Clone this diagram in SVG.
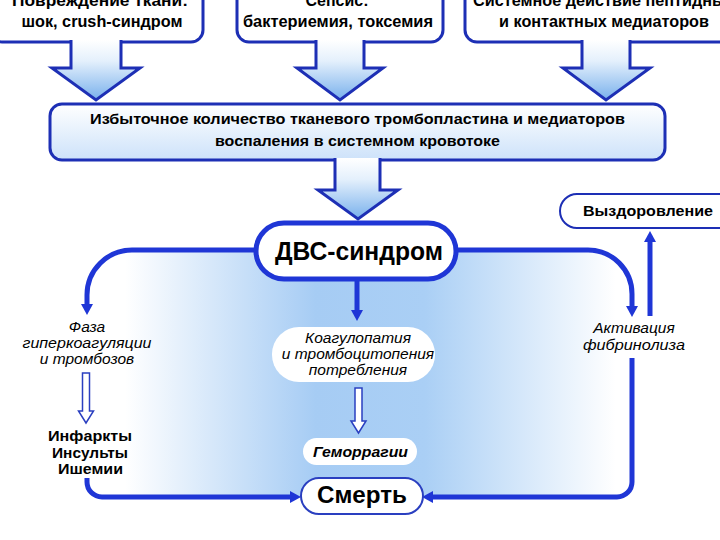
<svg xmlns="http://www.w3.org/2000/svg" width="720" height="540" viewBox="0 0 720 540">
<defs>
<linearGradient id="gArrow" x1="0" y1="0" x2="0" y2="1">
<stop offset="0" stop-color="#ffffff"/>
<stop offset="0.35" stop-color="#e4f0fc"/>
<stop offset="1" stop-color="#78b0ec"/>
</linearGradient>
<linearGradient id="gMain" x1="0" y1="0" x2="0" y2="1">
<stop offset="0" stop-color="#ffffff"/>
<stop offset="1" stop-color="#cde2fa"/>
</linearGradient>
<linearGradient id="gLoop" gradientUnits="userSpaceOnUse" x1="87" y1="0" x2="632" y2="0">
<stop offset="0" stop-color="#ffffff"/>
<stop offset="0.07" stop-color="#ffffff"/>
<stop offset="0.42" stop-color="#a6ccf4"/>
<stop offset="0.62" stop-color="#aacff5"/>
<stop offset="0.97" stop-color="#ffffff"/>
</linearGradient>
<marker id="ah" viewBox="0 -6 11 12" refX="0" refY="0" markerWidth="11" markerHeight="12" markerUnits="userSpaceOnUse" orient="auto">
<path d="M0,-6 L11,0 L0,6 Z" fill="#1f36d6"/>
</marker>
<style>
.box{fill:#ffffff;stroke:#1d2fb5;stroke-width:3}
.barrow{fill:url(#gArrow);stroke:#1d2fb5;stroke-width:3;stroke-linejoin:miter}
.line{fill:none;stroke:#1f36d6;stroke-width:5}
.hollow{fill:#ffffff;stroke:#2a3fc0;stroke-width:1.5}
text{font-family:"Liberation Sans",Arial,sans-serif;fill:#000;text-anchor:middle}
.t{font-weight:bold;font-size:17px}
.b{font-weight:bold;font-size:15px}
.i{font-style:italic;font-size:15.5px}
</style>
</defs>

<rect width="720" height="540" fill="#ffffff"/>

<path d="M132,250 H588 A44,44 0 0 1 632,294 V482 A15,15 0 0 1 617,497 H102 A15,15 0 0 1 87,482 V295 A45,45 0 0 1 132,250 Z" fill="url(#gLoop)"/>

<g id="box-injury">
<rect class="box" x="-10" y="-30" width="213" height="72" rx="12"/>
<text class="t" x="100" y="6" textLength="176" lengthAdjust="spacingAndGlyphs">Повреждение ткани:</text>
<text class="t" x="102" y="27" textLength="161" lengthAdjust="spacingAndGlyphs">шок, crush-синдром</text>
</g>
<g id="box-sepsis">
<rect class="box" x="237" y="-30" width="206" height="72" rx="12"/>
<text class="t" x="337" y="6" textLength="63" lengthAdjust="spacingAndGlyphs">Сепсис:</text>
<text class="t" x="338" y="27" textLength="190" lengthAdjust="spacingAndGlyphs">бактериемия, токсемия</text>
</g>
<g id="box-peptides">
<rect class="box" x="465" y="-30" width="300" height="72" rx="12"/>
<text class="t" x="473" y="6" style="text-anchor:start" textLength="262" lengthAdjust="spacingAndGlyphs">Системное действие пептидных</text>
<text class="t" x="604" y="27" textLength="210" lengthAdjust="spacingAndGlyphs">и контактных медиаторов</text>
</g>

<g id="block-arrows">
<path class="barrow" d="M71,40 V68 H52 L96,100 L140,68 H121 V40"/>
<path class="barrow" d="M316,40 V68 H297 L340,100 L383,68 H364 V40"/>
<path class="barrow" d="M582,40 V68 H563 L606,100 L650,68 H630 V40"/>
</g>

<g id="box-main">
<rect x="50" y="104" width="615" height="56" rx="12" fill="url(#gMain)" stroke="#1d2fb5" stroke-width="3"/>
<text class="b" x="357.5" y="124" textLength="535" lengthAdjust="spacingAndGlyphs">Избыточное количество тканевого тромбопластина и медиаторов</text>
<text class="b" x="357.5" y="146" textLength="285" lengthAdjust="spacingAndGlyphs">воспаления в системном кровотоке</text>
</g>
<path class="barrow" d="M335,158 V190 H318 L358,219 L398,190 H380 V158"/>

<g id="connectors">
<path class="line" d="M260,250 H132 A45,45 0 0 0 87,295 V304" marker-end="url(#ah)"/>
<path class="line" d="M450,250 H588 A44,44 0 0 1 632,294 V306" marker-end="url(#ah)"/>
<path class="line" d="M357,275 V310" marker-end="url(#ah)"/>
<path class="line" d="M87,478 V482 A15,15 0 0 0 102,497 H290" marker-end="url(#ah)"/>
<path class="line" d="M632,358 V482 A15,15 0 0 1 617,497 H433" marker-end="url(#ah)"/>
<path class="line" d="M650,316 V242" marker-end="url(#ah)"/>
<polygon class="hollow" points="82.5,373 89.5,373 89.5,411 93.5,411 86,423 78.5,411 82.5,411"/>
<polygon class="hollow" points="355,388 362,388 362,421 366,421 358.5,433 351,421 355,421"/>
</g>

<g id="node-recovery">
<rect x="560" y="194" width="200" height="34" rx="17" fill="#ffffff" stroke="#1d2fb5" stroke-width="2"/>
<text class="b" x="648" y="216" textLength="130" lengthAdjust="spacingAndGlyphs">Выздоровление</text>
</g>

<g id="node-dic">
<rect x="256" y="223" width="200" height="56" rx="28" fill="#ffffff" stroke="#1f36d6" stroke-width="5"/>
<text x="359" y="260" font-weight="bold" font-size="25" textLength="168" lengthAdjust="spacingAndGlyphs">ДВС-синдром</text>
</g>

<g id="node-hyper">
<text class="i" x="87" y="332">Фаза</text>
<text class="i" x="87" y="348" textLength="129" lengthAdjust="spacingAndGlyphs">гиперкоагуляции</text>
<text class="i" x="87" y="364">и тромбозов</text>
</g>

<g id="node-infarcts">
<text class="b" x="90" y="441" textLength="84" lengthAdjust="spacingAndGlyphs">Инфаркты</text>
<text class="b" x="90" y="457.5" textLength="76" lengthAdjust="spacingAndGlyphs">Инсульты</text>
<text class="b" x="90.5" y="474" textLength="65" lengthAdjust="spacingAndGlyphs">Ишемии</text>
</g>

<g id="node-coag">
<rect x="272" y="327" width="163" height="55" rx="27" fill="#ffffff"/>
<text class="i" x="358" y="343">Коагулопатия</text>
<text class="i" x="358" y="359">и тромбоцитопения</text>
<text class="i" x="358" y="375">потребления</text>
</g>

<g id="node-hemorrhage">
<rect x="303" y="438" width="114" height="27" rx="13.5" fill="#ffffff"/>
<text x="360.5" y="457" font-weight="bold" font-style="italic" font-size="15" textLength="95" lengthAdjust="spacingAndGlyphs">Геморрагии</text>
</g>

<g id="node-fibrinolysis">
<text class="i" x="634" y="333">Активация</text>
<text class="i" x="634" y="350" textLength="102" lengthAdjust="spacingAndGlyphs">фибринолиза</text>
</g>

<g id="node-death">
<rect x="301" y="478" width="122" height="36" rx="18" fill="#ffffff" stroke="#2a3fc0" stroke-width="2"/>
<text x="362" y="503" font-weight="bold" font-size="24" textLength="90" lengthAdjust="spacingAndGlyphs">Смерть</text>
</g>
</svg>
